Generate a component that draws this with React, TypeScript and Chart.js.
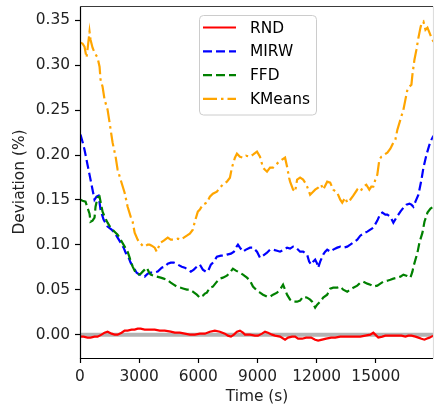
import React, { useEffect, useRef } from "react";
import { Chart, registerables } from "chart.js";

Chart.register(...registerables);

// ---------- data ----------
const seriesLabels = ["RND", "MIRW", "FFD", "KMeans"];
const seriesColors = ["#ff0000", "#0000ff", "#008000", "#ffa500"];

const rndTime = [25, 178, 381, 534, 737, 890, 1093, 1246, 1398, 1602, 1754, 1907, 2110, 2263, 2415, 2619, 2771, 2924, 3076, 3280, 3534, 3788, 4043, 4297, 4602, 4805, 5060, 5314, 5568, 5822, 6077, 6331, 6585, 6839, 7094, 7348, 7500, 7653, 7805, 7958, 8110, 8263, 8364, 8619, 8873, 9025, 9229, 9381, 9534, 9737, 9890, 10144, 10398, 10551, 10754, 10907, 11059, 11263, 11466, 11720, 11924, 12076, 12280, 12483, 12737, 12941, 13195, 13449, 13704, 13958, 14212, 14466, 14720, 14873, 15026, 15127, 15330, 15483, 15636, 15839, 16043, 16297, 16500, 16653, 16805, 17009, 17161, 17314, 17466, 17568, 17720, 17822, 17924];
const rndValues = [-0.0022, -0.0022, -0.0033, -0.0033, -0.0022, -0.0022, 0, 0.0022, 0.0033, 0.0011, 0, 0, 0.0022, 0.0045, 0.0045, 0.0056, 0.0056, 0.0067, 0.0067, 0.0056, 0.0056, 0.0056, 0.0045, 0.0045, 0.0033, 0.0022, 0.0022, 0.0011, 0, 0, 0.0011, 0.0011, 0.0033, 0.0045, 0.0033, 0.0011, -0.0011, -0.0022, 0, 0.0033, 0.0045, 0.0022, 0, 0, -0.0011, -0.0011, 0.0011, 0.0033, 0.0022, 0, -0.0011, -0.0022, -0.0056, -0.0033, -0.0022, -0.0022, -0.0045, -0.0045, -0.0033, -0.0033, -0.0056, -0.0067, -0.0056, -0.0045, -0.0033, -0.0033, -0.0022, -0.0022, -0.0022, -0.0022, -0.0022, -0.0011, 0, 0.0022, -0.0011, -0.0033, -0.0022, -0.0011, -0.0011, -0.0011, -0.0011, -0.0011, -0.0022, -0.0011, -0.0011, -0.0022, -0.0033, -0.0045, -0.0056, -0.0045, -0.0033, -0.0022, -0.0011];

const mirwTime = [25, 127, 229, 381, 483, 585, 737, 839, 941, 1042, 1195, 1398, 1602, 1754, 1907, 2059, 2212, 2314, 2466, 2568, 2720, 2873, 3026, 3178, 3280, 3432, 3585, 3737, 3941, 4144, 4297, 4449, 4602, 4754, 4958, 5161, 5314, 5466, 5619, 5771, 5924, 6077, 6229, 6382, 6483, 6636, 6788, 6941, 7144, 7297, 7449, 7653, 7805, 7907, 8009, 8110, 8263, 8415, 8619, 8771, 8975, 9127, 9280, 9483, 9636, 9788, 9992, 10144, 10347, 10500, 10653, 10805, 10958, 11161, 11314, 11517, 11619, 11720, 11822, 11924, 12025, 12076, 12178, 12331, 12432, 12534, 12687, 12839, 13043, 13195, 13348, 13551, 13704, 13856, 14059, 14212, 14365, 14568, 14720, 14873, 15076, 15229, 15330, 15483, 15585, 15737, 15890, 16043, 16246, 16399, 16551, 16703, 16805, 16907, 17009, 17161, 17314, 17415, 17568, 17720, 17822, 17924];
const mirwValues = [0.2227, 0.2149, 0.206, 0.1893, 0.1782, 0.167, 0.1503, 0.1537, 0.1548, 0.1392, 0.1281, 0.1203, 0.1169, 0.1136, 0.108, 0.1025, 0.0969, 0.0913, 0.0857, 0.0802, 0.0746, 0.069, 0.0668, 0.0657, 0.0646, 0.0679, 0.069, 0.069, 0.0702, 0.0746, 0.0757, 0.0791, 0.0802, 0.0802, 0.078, 0.0757, 0.0746, 0.0724, 0.0702, 0.0724, 0.0757, 0.078, 0.0724, 0.0702, 0.0702, 0.078, 0.0813, 0.0869, 0.088, 0.088, 0.0891, 0.0902, 0.0924, 0.0969, 0.1002, 0.0969, 0.0924, 0.0947, 0.0969, 0.0969, 0.0924, 0.0857, 0.088, 0.0913, 0.0947, 0.0947, 0.0935, 0.0924, 0.0947, 0.0969, 0.0958, 0.098, 0.0969, 0.0924, 0.0924, 0.0891, 0.0813, 0.078, 0.0813, 0.0835, 0.0791, 0.0746, 0.0813, 0.0891, 0.0924, 0.0947, 0.0924, 0.0947, 0.0969, 0.098, 0.0969, 0.098, 0.1002, 0.1025, 0.1058, 0.1102, 0.1125, 0.1147, 0.1169, 0.1192, 0.127, 0.1347, 0.1359, 0.1336, 0.1336, 0.1314, 0.1247, 0.1303, 0.137, 0.1414, 0.1448, 0.1459, 0.1448, 0.1425, 0.1481, 0.1559, 0.1726, 0.186, 0.2004, 0.2116, 0.2172, 0.2216];

const ffdTime = [25, 127, 280, 381, 483, 534, 636, 737, 788, 890, 992, 1042, 1144, 1246, 1398, 1551, 1754, 1907, 2059, 2263, 2415, 2517, 2670, 2822, 2924, 3076, 3178, 3280, 3382, 3483, 3585, 3737, 3890, 4093, 4246, 4399, 4602, 4754, 4907, 5110, 5263, 5416, 5568, 5721, 5924, 6077, 6229, 6331, 6433, 6585, 6738, 6941, 7094, 7246, 7449, 7602, 7754, 7907, 8110, 8263, 8466, 8619, 8771, 8975, 9127, 9280, 9483, 9636, 9788, 9992, 10144, 10297, 10398, 10500, 10653, 10805, 11009, 11161, 11314, 11517, 11669, 11771, 11924, 12025, 12178, 12331, 12534, 12687, 12839, 13043, 13195, 13348, 13551, 13704, 13856, 14059, 14212, 14365, 14568, 14720, 14873, 15076, 15229, 15381, 15585, 15737, 15890, 16093, 16246, 16399, 16551, 16754, 16856, 16907, 17009, 17110, 17212, 17365, 17466, 17619, 17771, 17924];
const ffdValues = [0.1503, 0.1492, 0.1481, 0.1414, 0.1347, 0.1258, 0.127, 0.1303, 0.1425, 0.1526, 0.1537, 0.1481, 0.137, 0.1314, 0.1247, 0.1192, 0.1147, 0.1114, 0.1058, 0.098, 0.0924, 0.0857, 0.0757, 0.069, 0.0668, 0.0679, 0.0702, 0.0724, 0.0746, 0.0702, 0.0668, 0.0657, 0.0646, 0.0635, 0.0624, 0.0612, 0.0579, 0.0557, 0.0535, 0.0523, 0.0512, 0.0501, 0.0501, 0.0479, 0.0445, 0.0412, 0.0434, 0.0457, 0.0468, 0.0523, 0.0535, 0.059, 0.0624, 0.0635, 0.0657, 0.069, 0.0735, 0.0713, 0.069, 0.0668, 0.0635, 0.0601, 0.0535, 0.049, 0.0468, 0.0445, 0.0423, 0.0423, 0.0445, 0.0468, 0.0501, 0.0557, 0.0501, 0.0445, 0.039, 0.0367, 0.0367, 0.0379, 0.0423, 0.0412, 0.039, 0.0367, 0.0301, 0.0334, 0.0367, 0.0412, 0.0445, 0.0512, 0.0523, 0.0523, 0.0535, 0.0501, 0.0479, 0.0501, 0.0523, 0.0546, 0.0579, 0.059, 0.0568, 0.0557, 0.0535, 0.0546, 0.0568, 0.059, 0.0601, 0.0612, 0.0624, 0.0635, 0.0646, 0.0668, 0.0657, 0.0635, 0.0702, 0.0757, 0.0835, 0.0913, 0.1025, 0.1136, 0.1258, 0.1359, 0.1403, 0.1425];

const kmeansTime = [25, 127, 229, 331, 381, 483, 534, 636, 737, 890, 992, 1042, 1144, 1246, 1398, 1500, 1653, 1805, 1907, 2059, 2263, 2415, 2568, 2670, 2771, 2924, 3026, 3178, 3280, 3432, 3534, 3636, 3788, 3890, 3992, 4093, 4246, 4449, 4602, 4805, 4958, 5110, 5263, 5416, 5568, 5721, 5822, 5975, 6077, 6229, 6433, 6585, 6738, 6941, 7094, 7246, 7449, 7602, 7704, 7856, 7958, 8110, 8263, 8415, 8619, 8771, 8975, 9127, 9280, 9381, 9483, 9636, 9788, 9941, 10043, 10246, 10398, 10500, 10602, 10653, 10805, 10907, 11009, 11161, 11314, 11415, 11517, 11669, 11771, 11924, 12076, 12229, 12331, 12432, 12534, 12687, 12839, 13043, 13195, 13297, 13449, 13551, 13704, 13856, 14059, 14212, 14365, 14517, 14670, 14771, 14873, 14975, 15076, 15178, 15280, 15432, 15585, 15737, 15890, 15992, 16093, 16246, 16399, 16500, 16602, 16703, 16805, 16856, 16958, 17059, 17161, 17263, 17314, 17415, 17517, 17619, 17720, 17822, 17924];
const kmeansValues = [0.3252, 0.3241, 0.3207, 0.3085, 0.3174, 0.3374, 0.3285, 0.3196, 0.314, 0.3085, 0.2984, 0.284, 0.2762, 0.2617, 0.2506, 0.2361, 0.2138, 0.1982, 0.1837, 0.1726, 0.1581, 0.1425, 0.1314, 0.1258, 0.1136, 0.1058, 0.1025, 0.0991, 0.098, 0.1002, 0.1002, 0.0991, 0.0969, 0.0924, 0.098, 0.1025, 0.1047, 0.108, 0.1058, 0.1058, 0.1069, 0.1058, 0.108, 0.1102, 0.1125, 0.1169, 0.1258, 0.137, 0.1392, 0.1448, 0.147, 0.1537, 0.157, 0.1592, 0.1637, 0.167, 0.1704, 0.1748, 0.186, 0.1971, 0.2016, 0.1982, 0.1971, 0.1993, 0.1982, 0.2004, 0.2038, 0.1982, 0.186, 0.1837, 0.1815, 0.186, 0.186, 0.1893, 0.1915, 0.1949, 0.1971, 0.1871, 0.1748, 0.1704, 0.1615, 0.1592, 0.1726, 0.1748, 0.1726, 0.1693, 0.1648, 0.1559, 0.1581, 0.1615, 0.1637, 0.167, 0.1615, 0.1659, 0.1704, 0.1693, 0.1615, 0.1581, 0.1503, 0.147, 0.1526, 0.147, 0.1503, 0.1548, 0.1615, 0.1592, 0.1648, 0.167, 0.1615, 0.1648, 0.1648, 0.1726, 0.1782, 0.1949, 0.1982, 0.2004, 0.2027, 0.2071, 0.2138, 0.2172, 0.2283, 0.2394, 0.2506, 0.2617, 0.2728, 0.2762, 0.2784, 0.2895, 0.3062, 0.3174, 0.3307, 0.3419, 0.3463, 0.3486, 0.3396, 0.3419, 0.3363, 0.3307, 0.3263];

const xTickValues = [0, 3000, 6000, 9000, 12000, 15000];
const yTickValues = [0, 0.05, 0.1, 0.15, 0.2, 0.25, 0.3, 0.35];
const xTitle = "Time (s)";
const yTitle = "Deviation (%)";
const X_MIN = 0;
const X_MAX = 17950;
const Y_MIN = -0.026;
const Y_MAX = 0.366;
const zeroLineValue = 0;

const seriesTimes = [rndTime, mirwTime, ffdTime, kmeansTime];
const seriesValues = [rndValues, mirwValues, ffdValues, kmeansValues];
const seriesDashes: number[][] = [[], [9, 4], [9, 4], [14, 4, 2.5, 4]];

const FONT = "'DejaVu Sans', sans-serif";
const FONT_SIZE = 15.4;

const framePlugin = {
  id: "frameAndZero",
  beforeDatasetsDraw(chart: any) {
    const { ctx, chartArea, scales } = chart;
    const y = scales.y.getPixelForValue(zeroLineValue);
    ctx.save();
    ctx.strokeStyle = "#b3b3b3";
    ctx.lineWidth = 4;
    ctx.beginPath();
    ctx.moveTo(chartArea.left, y);
    ctx.lineTo(chartArea.right, y);
    ctx.stroke();
    ctx.restore();
  },
  afterDatasetsDraw(chart: any) {
    const { ctx, chartArea } = chart;
    ctx.save();
    ctx.lineWidth = 1.2;
    // faint, partly cropped right spine
    ctx.strokeStyle = "#dddddd";
    ctx.beginPath();
    ctx.moveTo(chartArea.right - 0.5, chartArea.top + 0.5);
    ctx.lineTo(chartArea.right - 0.5, chartArea.bottom + 0.5);
    ctx.stroke();
    // top spine
    ctx.strokeStyle = "#3a3a3a";
    ctx.beginPath();
    ctx.moveTo(chartArea.left + 0.5, chartArea.top + 0.5);
    ctx.lineTo(chartArea.right - 1, chartArea.top + 0.5);
    ctx.stroke();
    // left and bottom spines
    ctx.strokeStyle = "#000000";
    ctx.beginPath();
    ctx.moveTo(chartArea.left + 0.5, chartArea.top + 0.5);
    ctx.lineTo(chartArea.left + 0.5, chartArea.bottom + 0.5);
    ctx.lineTo(chartArea.right - 1, chartArea.bottom + 0.5);
    ctx.stroke();
    ctx.restore();
  },
};

const legendPlugin = {
  id: "mplLegend",
  afterDraw(chart: any) {
    const { ctx } = chart;
    const bx = 199.5, by = 15.5, bw = 117, bh = 99.5, r = 4;
    ctx.save();
    ctx.beginPath();
    ctx.moveTo(bx + r, by);
    ctx.arcTo(bx + bw, by, bx + bw, by + bh, r);
    ctx.arcTo(bx + bw, by + bh, bx, by + bh, r);
    ctx.arcTo(bx, by + bh, bx, by, r);
    ctx.arcTo(bx, by, bx + bw, by, r);
    ctx.closePath();
    ctx.fillStyle = "rgba(255,255,255,0.8)";
    ctx.fill();
    ctx.strokeStyle = "#cccccc";
    ctx.lineWidth = 1;
    ctx.stroke();
    ctx.font = `${FONT_SIZE}px ${FONT}`;
    ctx.textBaseline = "middle";
    ctx.textAlign = "left";
    chart.data.datasets.forEach((ds: any, i: number) => {
      const yy = 27.5 + i * 23.8;
      ctx.strokeStyle = ds.borderColor;
      ctx.lineWidth = ds.borderWidth;
      ctx.setLineDash(ds.borderDash || []);
      ctx.beginPath();
      ctx.moveTo(203, yy);
      ctx.lineTo(236, yy);
      ctx.stroke();
      ctx.setLineDash([]);
      ctx.fillStyle = "#000000";
      ctx.fillText(ds.label, 250, yy + 1);
    });
    ctx.restore();
  },
};

export default function App() {
  const ref = useRef<HTMLCanvasElement | null>(null);
  useEffect(() => {
    if (!ref.current) return;
    const datasets = seriesLabels.map((label, i) => ({
      label,
      data: seriesTimes[i].map((t, j) => ({ x: t, y: seriesValues[i][j] })),
      borderColor: seriesColors[i],
      backgroundColor: seriesColors[i],
      borderWidth: 2.2,
      borderDash: seriesDashes[i],
      pointRadius: 0,
      tension: 0,
      fill: false,
      order: seriesLabels.length - i,
    }));
    const chart = new Chart(ref.current, {
      type: "line",
      data: { datasets },
      options: {
        responsive: false,
        animation: false,
        devicePixelRatio: 1,
        layout: { padding: { top: 6, right: 0, left: 0, bottom: 0 } },
        plugins: { legend: { display: false }, tooltip: { enabled: false } },
        scales: {
          x: {
            type: "linear",
            min: X_MIN,
            max: X_MAX,
            afterBuildTicks: (s: any) => { s.ticks = xTickValues.map((v) => ({ value: v })); },
            afterFit: (s: any) => { s.height = 54; s.paddingLeft = 0; s.paddingRight = 0; },
            border: { display: false },
            grid: { drawOnChartArea: false, drawTicks: true, tickLength: 5, tickColor: "#000", tickWidth: 1.2 },
            ticks: {
              padding: 5,
              color: "#222",
              font: { family: FONT, size: FONT_SIZE },
              maxRotation: 0,
              autoSkip: false,
              callback: (v: any) => String(v),
            },
            title: { display: true, text: xTitle, color: "#222", font: { family: FONT, size: FONT_SIZE }, padding: { top: 0, bottom: 6 } },
          },
          y: {
            type: "linear",
            min: Y_MIN,
            max: Y_MAX,
            afterBuildTicks: (s: any) => { s.ticks = yTickValues.map((v) => ({ value: v })); },
            afterFit: (s: any) => { s.width = 80; s.paddingTop = 0; s.paddingBottom = 0; },
            border: { display: false },
            grid: { drawOnChartArea: false, drawTicks: true, tickLength: 5, tickColor: "#000", tickWidth: 1.2 },
            ticks: {
              padding: 5,
              color: "#222",
              font: { family: FONT, size: FONT_SIZE },
              autoSkip: false,
              callback: (v: any) => Number(v).toFixed(2),
            },
            title: { display: true, text: yTitle, color: "#222", font: { family: FONT, size: FONT_SIZE }, padding: { top: 11, bottom: 0 } },
          },
        },
      },
      plugins: [framePlugin, legendPlugin],
    } as any);
    return () => chart.destroy();
  }, []);
  return (
    <div style={{ position: "absolute", left: 0, top: 0, width: 434, height: 412, background: "#fff" }}>
      <canvas ref={ref} width={434} height={412} style={{ width: 434, height: 412, display: "block" }} />
    </div>
  );
}
